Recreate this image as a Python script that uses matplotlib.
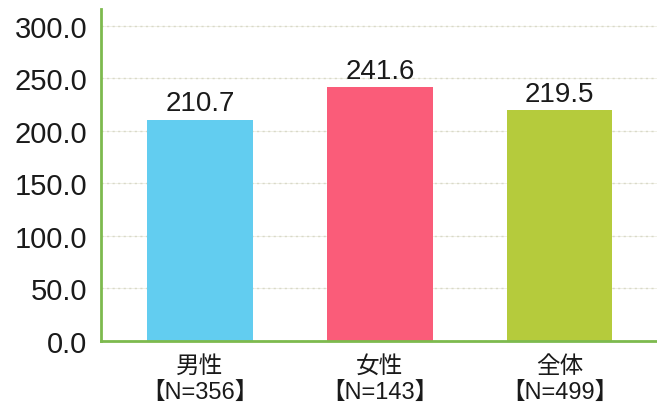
import matplotlib
matplotlib.use("Agg")
import matplotlib.pyplot as plt

categories = ["男性", "女性", "全体"]
counts = [356, 143, 499]
values = [210.7, 241.6, 219.5]
bar_colors = ["#62cdf0", "#fa5c79", "#b5cb3c"]
yticks = [0, 50, 100, 150, 200, 250, 300]

plt.rcParams["font.family"] = ["Liberation Sans", "Noto Sans CJK JP", "DejaVu Sans"]

fig = plt.figure(figsize=(6.57, 4.14), dpi=100)
ax = fig.add_axes([101 / 657, (414 - 342) / 414, (657 - 101) / 657, (342 - 10) / 414])

x = list(range(len(categories)))
ax.bar(x, values, width=0.585, color=bar_colors, zorder=2)

for xi, v in zip(x, values):
    ax.text(xi, v + 3, f"{v:.1f}", ha="center", va="bottom", fontsize=20, color="#1a1a1a")

ax.set_xlim(-0.55, 2.54)
ax.set_ylim(0, 316)
ax.set_yticks(yticks)
ax.set_yticklabels([f"{t:.1f}" for t in yticks], fontsize=21, color="#1a1a1a")
ax.tick_params(axis="y", length=0, pad=10)
ax.set_xticks(x)
ax.set_xticklabels([f"{c}\n【N={n}】" for c, n in zip(categories, counts)],
                   fontsize=17, color="#1a1a1a", linespacing=1.25)
ax.tick_params(axis="x", length=0, pad=10)

ax.yaxis.grid(True, linestyle=(0, (1.5, 2.5)), color="#d9d9c8", linewidth=1.0, zorder=0)
for t in yticks[1:]:
    ax.axhline(t, color="#eeeee2", linewidth=0.6, zorder=0)

for side in ["top", "right"]:
    ax.spines[side].set_visible(False)
for side in ["left", "bottom"]:
    ax.spines[side].set_color("#7dba4e")
    ax.spines[side].set_linewidth(2)

fig.savefig("out.png", dpi=100)
